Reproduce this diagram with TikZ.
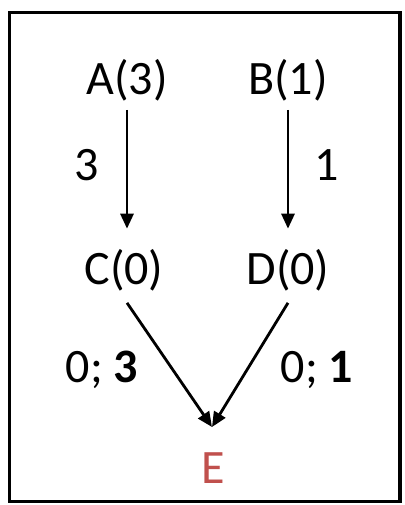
\documentclass[tikz,border=0pt]{standalone}
\usepackage{fontspec}
\setmainfont{Carlito}
\usetikzlibrary{arrows.meta}

\begin{document}
\begin{tikzpicture}[x=1pt, y=-1pt, every node/.style={font=\fontsize{48}{54}\selectfont, inner sep=0pt, anchor=base}, arr/.style={-{Triangle[length=15pt,width=13pt]}, line width=2.8pt}]
\useasboundingbox (0,0) rectangle (404,505);
\draw[line width=3.5pt] (9.5,12.5) rectangle (400,501.5);
\node (a) at (127,95) {A(3)};
\node (b) at (288,95) {B(1)};
\node (c) at (124,284) {C(0)};
\node (d) at (288,284) {D(0)};
\node[text={rgb,255:red,192;green,80;blue,77}] (e) at (213,483) {E};
\coordinate (m) at (212,427);
\node (la) at (87,180) {3};
\node (lb) at (327,180) {1};
\node (lc) at (102,382) {0; \textbf{3}};
\node (ld) at (317,382) {0; \textbf{1}};
\draw[arr, shorten <=8pt, shorten >=20pt] (a.south) -- (a.south |- c.north);
\draw[arr, shorten <=8pt, shorten >=20pt] (b.south) -- (d.north);
\draw[arr] ([shift={(3pt,-12pt)}]c.south) -- (m);
\draw[arr] ([yshift=-12pt]d.south) -- (m);
\end{tikzpicture}
\end{document}
